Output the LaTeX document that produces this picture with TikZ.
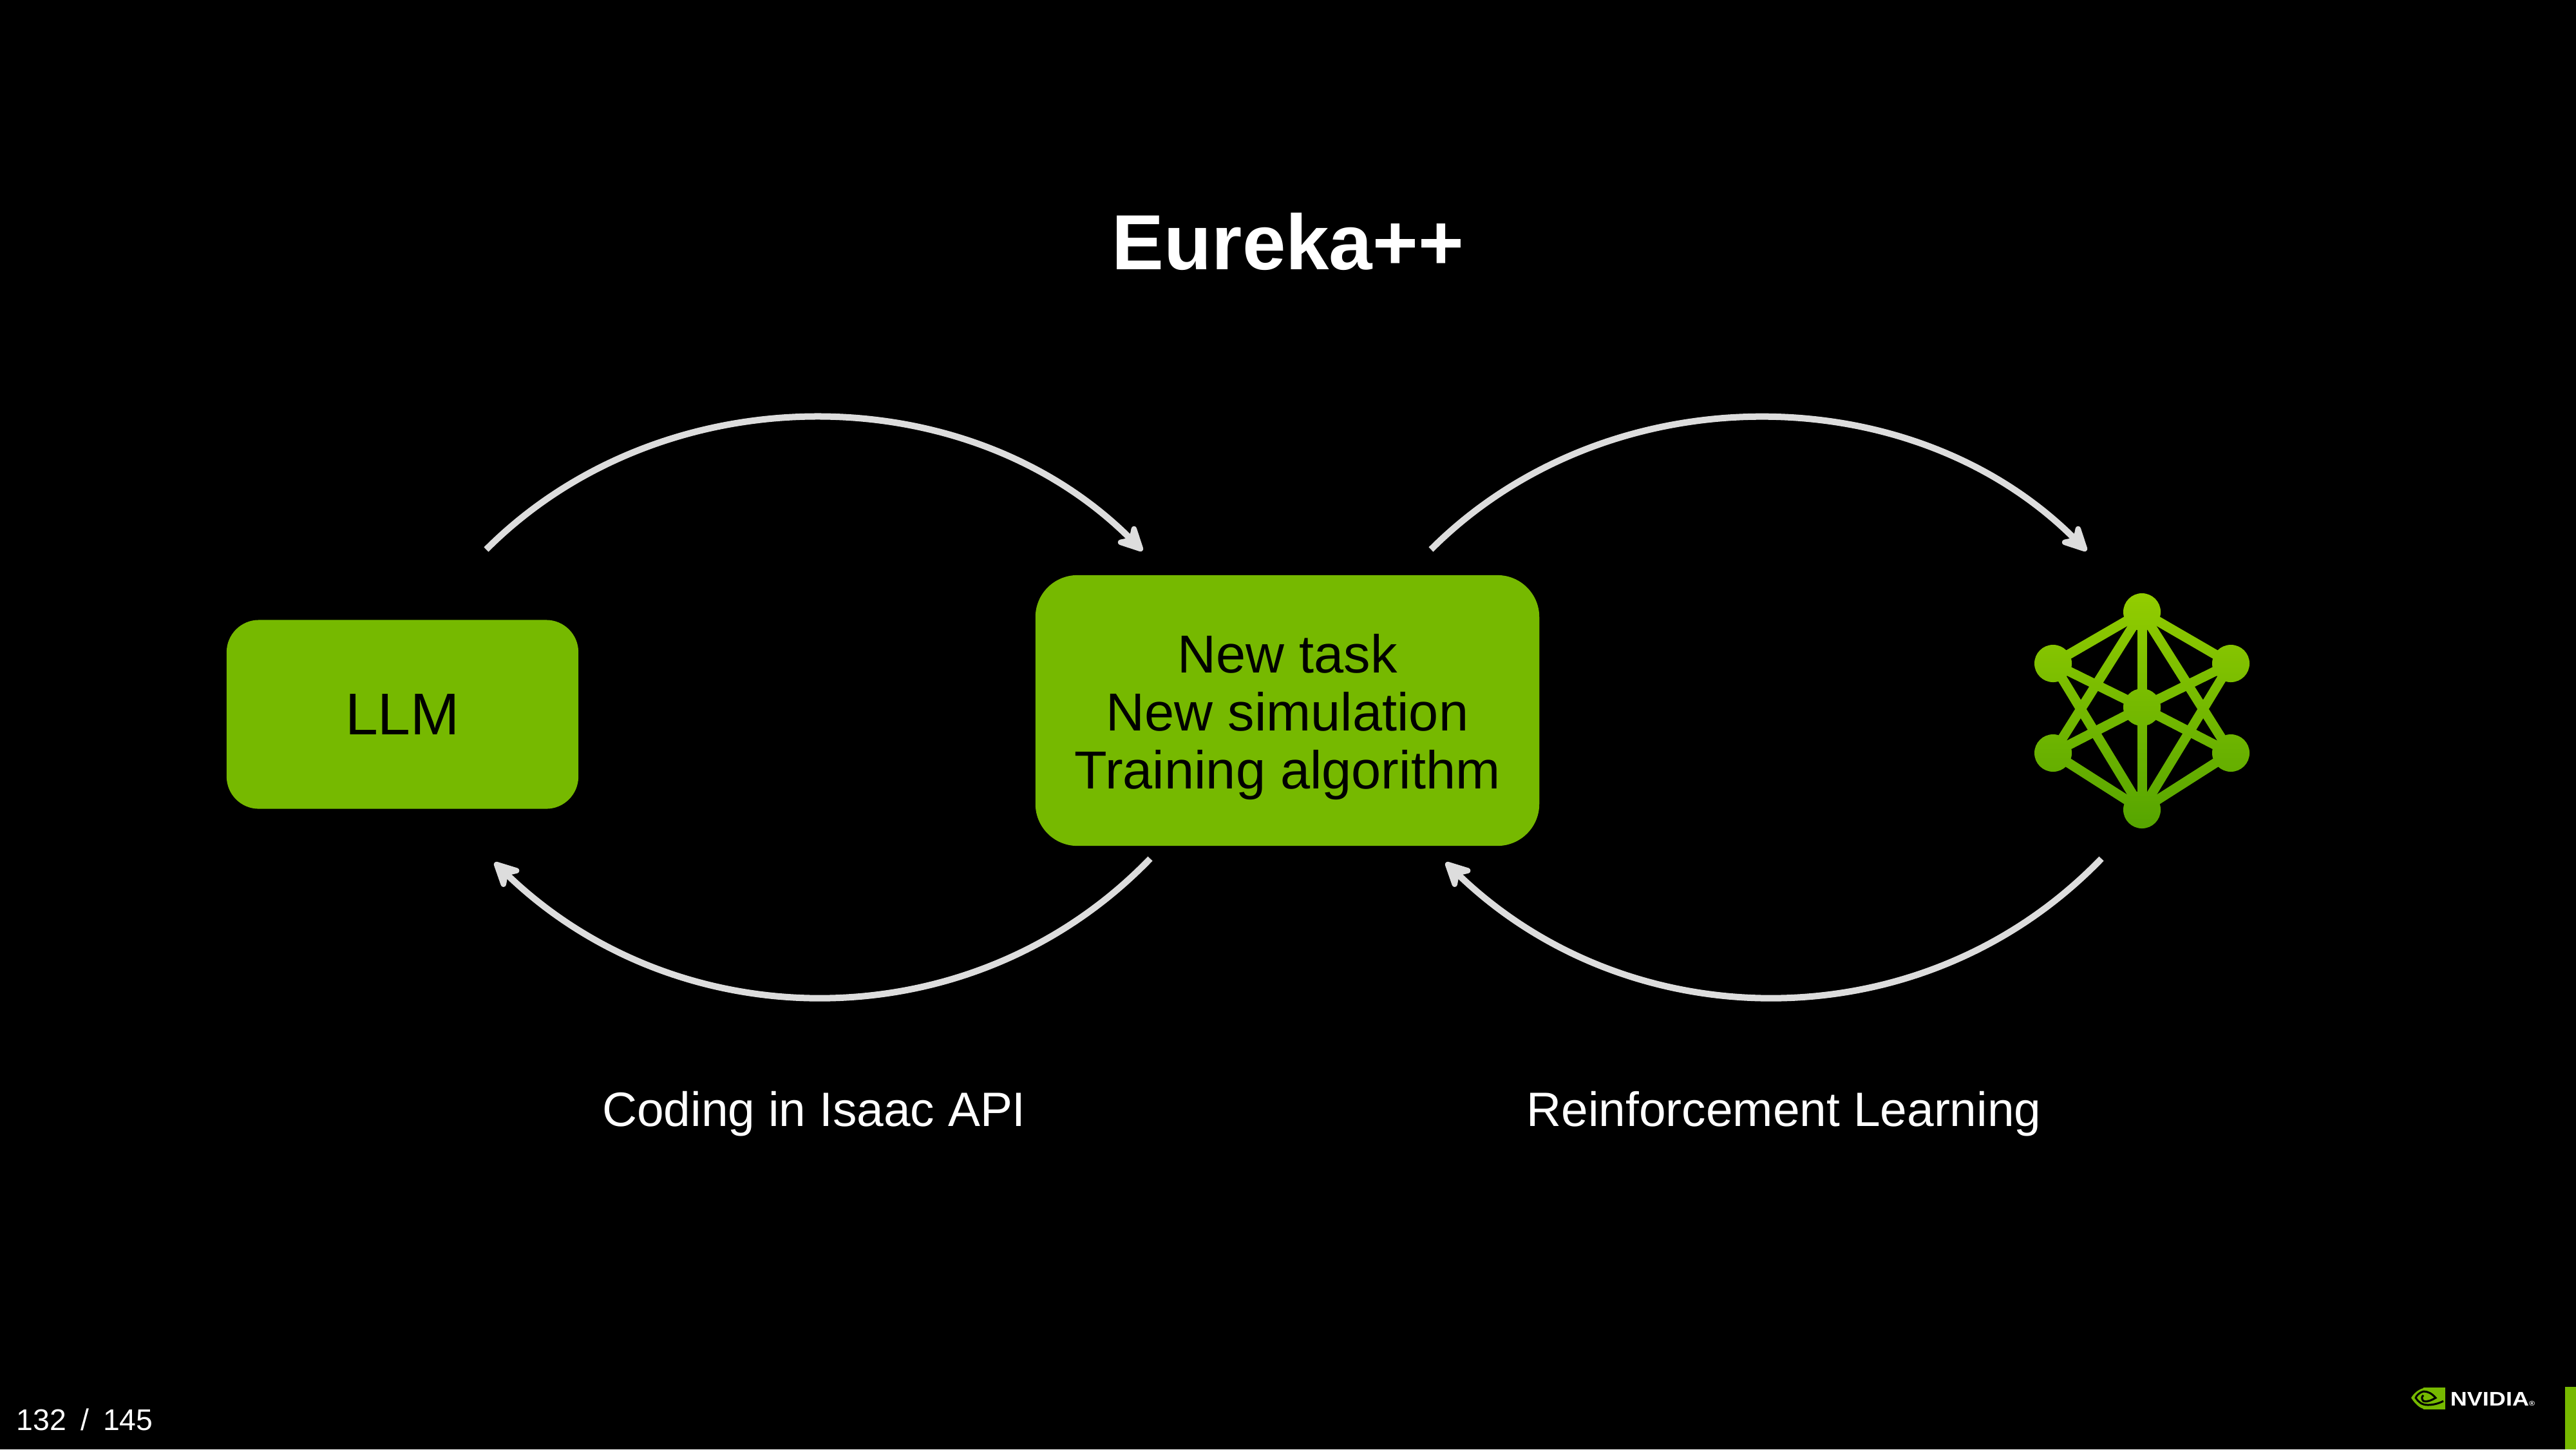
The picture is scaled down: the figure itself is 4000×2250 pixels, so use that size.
\documentclass[tikz,border=0pt]{standalone}
\usepackage{fontspec}
\usepackage{tikz}
\usetikzlibrary{arrows.meta}
\setmainfont{Liberation Sans}
\newfontfamily\logofont[FakeStretch=1.18]{Liberation Sans}
\definecolor{nvgreen}{HTML}{76B900}
\definecolor{arcgray}{HTML}{DDDDDD}
\definecolor{icontop}{HTML}{94CE00}
\tikzset{
  greenbox/.style={draw=none,fill=nvgreen,align=center,text=black,inner sep=0pt},
  looparc/.style={draw=arcgray,line width=.1cm,-{Stealth[round,length=.5cm,width=.5cm,inset=.16cm]}},
  netdot/.style={circle,fill=icontop,inner sep=0pt,minimum size=.58cm},
  netedge/.style={draw=icontop,line width=.15cm},
  caption/.style={text=white,inner sep=0pt}
}
\begin{document}
\begin{tikzpicture}[x=.01cm,y=-.01cm]
\fill[black] (0,0) rectangle (4000,2250);
\node[caption,font=\fontsize{34.5}{36}\selectfont\bfseries] (title) at (2000,375) {Eureka++};
\node[greenbox,rounded corners=.5cm,minimum width=5.46cm,minimum height=2.93cm,font=\fontsize{26}{28}\selectfont] (llm) at (625,1109) {LLM};
\node[greenbox,rounded corners=.65cm,minimum width=7.82cm,minimum height=4.2cm,font=\fontsize{23.6}{25.6}\selectfont] (sim) at (1999,1103) {\rule{0pt}{.8cm}New task\\New simulation\\Training algorithm};
\foreach \n/\x/\y in{
top/3326/950,
ul/3188/1030,
ur/3464/1030,
ll/3188/1169,
lr/3464/1169,
bot/3326/1257,
mid/3326/1098
}
{
        \node[netdot] (\n) at (\x,\y) {};
    }
\foreach \a/\b in{top/ul,top/ur,top/ll,top/lr,top/bot,ul/mid,ur/mid,ll/mid,lr/mid,ul/bot,ur/bot,ll/bot,lr/bot}
{
        \draw[netedge] (\a.center) -- (\b.center);
    }
% darken the icon towards the bottom
\shade[blend mode=multiply,top color=white,bottom color={rgb,1:red,.58;green,.8;blue,1}] (3150,915) rectangle (3500,1290);
\coordinate (a1s) at (755,853);
\coordinate (a1e) at (1774,855);
\coordinate (a2s) at (1786,1333);
\coordinate (a2e) at (768,1339);
\coordinate (a3s) at (2222,853);
\coordinate (a3e) at (3240,855);
\coordinate (a4s) at (3263,1333);
\coordinate (a4e) at (2245,1339);
\draw[looparc,looseness=.97] (a1s) to[out=45,in=135] (a1e);
\draw[looparc] (a2s) to[out=-134,in=-44] (a2e);
\draw[looparc,looseness=.97] (a3s) to[out=45,in=135] (a3e);
\draw[looparc] (a4s) to[out=-134,in=-44] (a4e);
\node[caption,font=\fontsize{21.3}{24}\selectfont] (coding) at (1264,1729) {Coding in Isaac API};
\node[caption,font=\fontsize{21.3}{24}\selectfont] (rl) at (2770,1729) {Reinforcement Learning};
\node[caption,font=\fontsize{13.2}{16}\selectfont,anchor=west] (page) at (25,2204) {\spaceskip=.22cm 132 / 145};
% logo
\fill[nvgreen] (3763,2154) rectangle (3797,2188);
\fill[nvgreen] (3763,2155) .. controls (3755,2157) and (3748,2163) .. (3744,2170) .. controls (3750,2179) and (3756,2185) .. (3763,2187) -- cycle;
\draw[black,line width=.03cm] (3763,2160) .. controls (3756,2162) and (3752,2167) .. (3751,2170) .. controls (3755,2176) and (3760,2181) .. (3770,2181) .. controls (3780,2181) and (3788,2178) .. (3794,2175);
\draw[black,line width=.03cm] (3763,2166) .. controls (3760,2168) and (3760,2172) .. (3763,2175) .. controls (3768,2177) and (3775,2174) .. (3782,2170) .. controls (3776,2163) and (3770,2160) .. (3763,2160);
\node[caption,font=\logofont\fontsize{8.7}{10}\selectfont\bfseries,anchor=west] (nvidia) at (3804,2172) {NVIDIA{\fontsize{3}{3}\selectfont ®}};
\fill[nvgreen] (3983,2153) rectangle (4000,2250);
\end{tikzpicture}
\end{document}
